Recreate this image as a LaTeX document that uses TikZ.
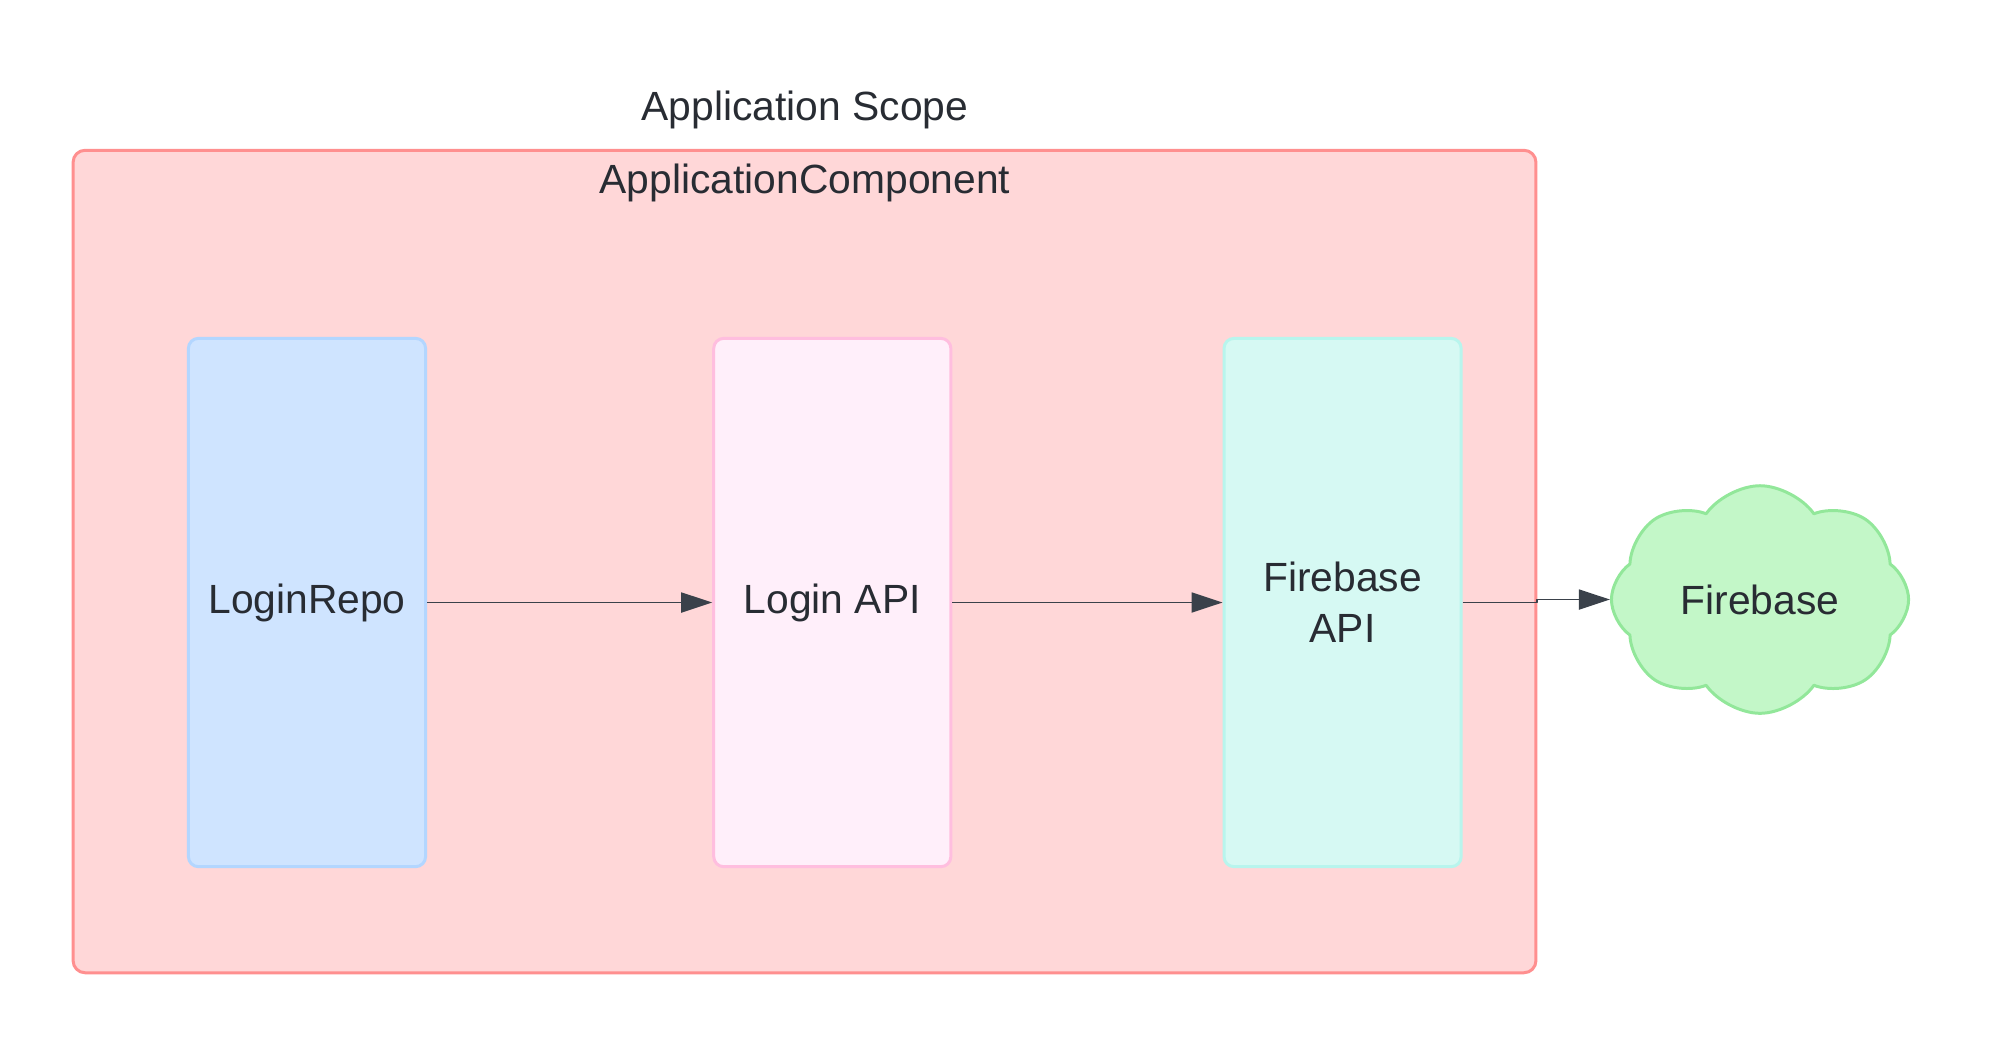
\documentclass[tikz,border=0pt]{standalone}
\usepackage{fontspec}
\setmainfont{Liberation Sans}
\usetikzlibrary{positioning,shapes.symbols,arrows.meta}
\definecolor{txtcol}{HTML}{282C33}
\definecolor{arrcol}{HTML}{3A414A}
\definecolor{scopefill}{HTML}{FFD7D8}
\definecolor{scopeline}{HTML}{FF8F8F}
\definecolor{repofill}{HTML}{CFE4FF}
\definecolor{repoline}{HTML}{B3D6FF}
\definecolor{apifill}{HTML}{FFEFFA}
\definecolor{apiline}{HTML}{FFBEDF}
\definecolor{fbfill}{HTML}{D6F9F3}
\definecolor{fbline}{HTML}{B8F5ED}
\definecolor{cloudfill}{HTML}{C3F7C8}
\definecolor{cloudline}{HTML}{92E79A}
\tikzset{
  labeltext/.style={text=txtcol, font=\fontsize{11.6}{14.5}\selectfont},
  compbox/.style={draw=#1line, fill=#1fill, line width=0.85pt, rounded corners=0.1cm,
    minimum width=2.37cm, minimum height=5.28cm, align=center, labeltext},
  flow/.style={draw=arrcol, line width=0.55pt, -{Triangle[length=0.31cm,width=0.2cm]}}
}
\begin{document}
\begin{tikzpicture}[x=0.01cm, y=-0.01cm, line join=round]
  \useasboundingbox (0,0) rectangle (2003,1050);
  % application component frame
  \node[draw=scopeline, fill=scopefill, line width=0.85pt, rounded corners=0.12cm,
        minimum width=14.62cm, minimum height=8.22cm] (comp) at (804.5,561.5) {};
  \node[labeltext, anchor=base] (scopetitle) at (805,120) {Application Scope};
  \node[labeltext, anchor=base] (comptitle) at (805,193) {ApplicationComponent};
  % inner boxes
  \node[compbox=repo] (repo) at (307,602.5) {LoginRepo};
  \node[compbox=api, right=2.85cm of repo] (loginapi) {Login API};
  \node[compbox=fb, right=2.7cm of loginapi] (fbapi) {Firebase\\API};
  % firebase cloud
  \node[cloud, cloud puffs=8, cloud puff arc=110, aspect=1.35, draw=cloudline, fill=cloudfill,
        line width=0.85pt, minimum width=2.97cm, minimum height=2.2cm, labeltext]
        (firebase) at (1760,599.5) {Firebase};
  % connectors
  \draw[flow] (repo) -- (loginapi);
  \draw[flow] (loginapi) -- (fbapi);
  \draw[flow] (fbapi.east) -- (fbapi.east -| comp.east) |- (firebase.west);
\end{tikzpicture}
\end{document}
